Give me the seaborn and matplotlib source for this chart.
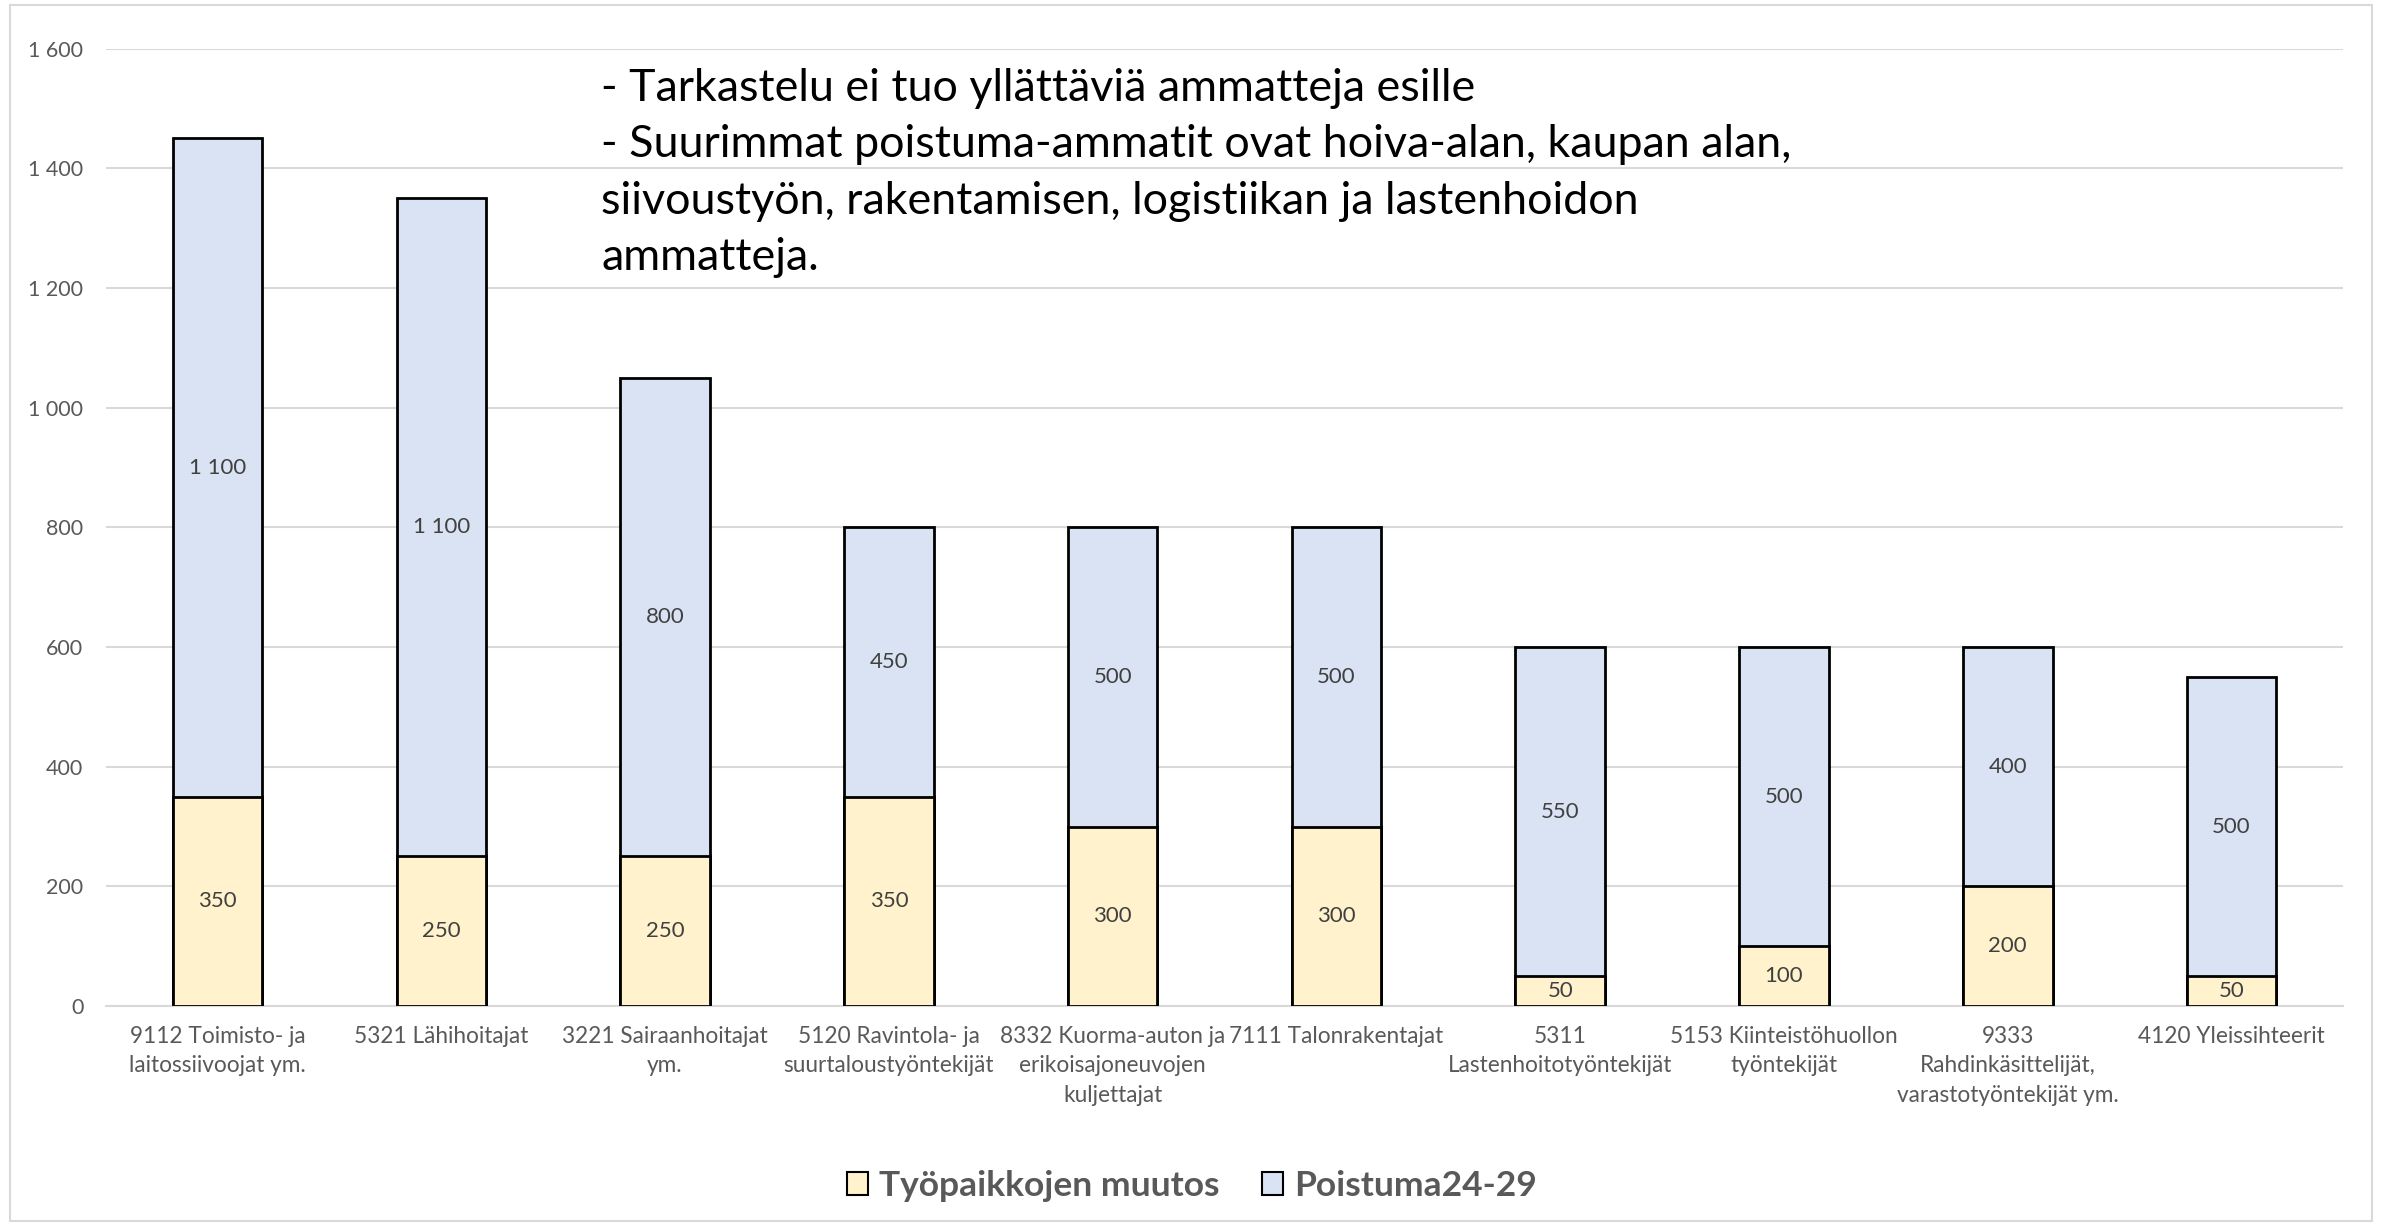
import matplotlib
matplotlib.use("Agg")
import matplotlib.pyplot as plt
import seaborn as sns
import pandas as pd
from matplotlib.patches import Patch, Rectangle

# data
ammatit = [
    "9112 Toimisto- ja\nlaitossiivoojat ym.",
    "5321 Lähihoitajat",
    "3221 Sairaanhoitajat\nym.",
    "5120 Ravintola- ja\nsuurtaloustyöntekijät",
    "8332 Kuorma-auton ja\nerikoisajoneuvojen\nkuljettajat",
    "7111 Talonrakentajat",
    "5311\nLastenhoitotyöntekijät",
    "5153 Kiinteistöhuollon\ntyöntekijät",
    "9333\nRahdinkäsittelijät,\nvarastotyöntekijät ym.",
    "4120 Yleissihteerit",
]
tyopaikat_muutos = [350, 250, 250, 350, 300, 300, 50, 100, 200, 50]
poistuma = [1100, 1100, 800, 450, 500, 500, 550, 500, 400, 500]
y_ticks = [0, 200, 400, 600, 800, 1000, 1200, 1400, 1600]
y_tick_labels = ["0", "200", "400", "600", "800", "1 000", "1 200", "1 400", "1 600"]
legend_labels = ["Työpaikkojen muutos", "Poistuma24-29"]
huomio = ("- Tarkastelu ei tuo yllättäviä ammatteja esille\n"
          "- Suurimmat poistuma-ammatit ovat hoiva-alan, kaupan alan,\n"
          "siivoustyön, rakentamisen, logistiikan ja lastenhoidon\n"
          "ammatteja.")

col_muutos = "#FFF2CC"
col_poistuma = "#DAE3F3"
txt_col = "#595959"

sns.set_theme(style="white")
plt.rcParams['font.family'] = ['Lato', 'DejaVu Sans']

df = pd.DataFrame({"ammatti": ammatit, "muutos": tyopaikat_muutos, "poistuma": poistuma})
df["yhteensa"] = df["muutos"] + df["poistuma"]

fig = plt.figure(figsize=(23.84, 12.25), dpi=100)
ax = fig.add_axes([0.0443, 0.1787, 0.9387, 0.7816])

# pinottu pylväs: ensin summa, sitten alaosa päälle
sns.barplot(data=df, x="ammatti", y="yhteensa", color=col_poistuma, width=0.4,
            edgecolor="black", linewidth=2, saturation=1, ax=ax, zorder=3)
sns.barplot(data=df, x="ammatti", y="muutos", color=col_muutos, width=0.4,
            edgecolor="black", linewidth=2, saturation=1, ax=ax, zorder=4)

# arvot pylväisiin
for i, row in df.iterrows():
    ax.text(i, row["muutos"] / 2, f"{row['muutos']:,}".replace(",", " "),
            ha="center", va="center", fontsize=16, color="#404040", zorder=5)
    ax.text(i, row["muutos"] + row["poistuma"] / 2, f"{row['poistuma']:,}".replace(",", " "),
            ha="center", va="center", fontsize=16, color="#404040", zorder=5)

ax.set_ylim(0, 1600)
ax.set_xlim(-0.5, len(ammatit) - 0.5)
ax.set_yticks(y_ticks)
ax.set_yticklabels(y_tick_labels, fontsize=15.5, color=txt_col)
ax.set_xticks(range(len(ammatit)))
ax.set_xticklabels(ammatit, fontsize=16.3, color=txt_col, linespacing=1.5)
ax.tick_params(axis="x", length=0, pad=14)
ax.tick_params(axis="y", length=0, pad=16)
ax.set_xlabel("")
ax.set_ylabel("")
ax.yaxis.grid(True, color="#D9D9D9", linewidth=1.5, zorder=0)
ax.set_axisbelow(True)
for s in ["top", "right", "left"]:
    ax.spines[s].set_visible(False)
ax.spines["bottom"].set_color("#D9D9D9")
ax.spines["bottom"].set_linewidth(1.5)

ax.text(0.2215, 0.98, huomio, transform=ax.transAxes, fontsize=32.3,
        color="black", ha="left", va="top", linespacing=1.47)

handles = [Patch(facecolor=col_muutos, edgecolor="black", linewidth=1.5),
           Patch(facecolor=col_poistuma, edgecolor="black", linewidth=1.5)]
fig.legend(handles, legend_labels, loc="center", bbox_to_anchor=(0.5, 0.032), ncol=2,
           frameon=False, prop={"size": 25.5, "weight": "bold"}, labelcolor=txt_col,
           handlelength=0.6, handleheight=0.6, handletextpad=0.3, columnspacing=1.2)

# kaavion reunus
fig.patches.append(Rectangle((0.004, 0.003), 0.991, 0.993, transform=fig.transFigure,
                             fill=False, edgecolor="#D9D9D9", linewidth=1.5))

fig.savefig("out.png", dpi=100)
